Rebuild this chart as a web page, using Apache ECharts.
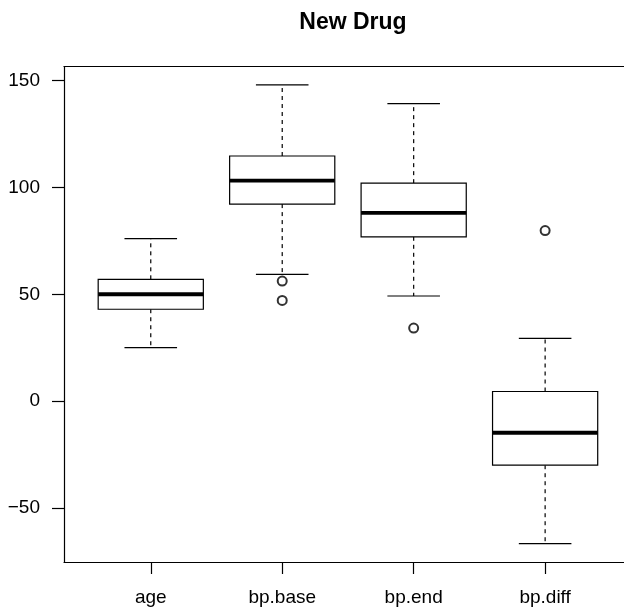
<!DOCTYPE html>
<html>
<head>
<meta charset="utf-8">
<script src="https://cdn.jsdelivr.net/npm/echarts@6/dist/echarts.min.js"></script>
<style>
html,body{margin:0;padding:0;background:#fff;}
#chart{width:624px;height:611px;}
</style>
</head>
<body>
<div id="chart"></div>
<script>
// ---- data ----
const categories = ['age', 'bp.base', 'bp.end', 'bp.diff'];
const lowWhisker = [25, 59.3, 49.2, -66.7];
const lowerQuartile = [43, 92.2, 76.9, -30];
const medianValue = [50, 103.2, 88.1, -14.8];
const upperQuartile = [57, 114.7, 102, 4.5];
const highWhisker = [76, 148, 139.2, 29.4];
const outlierGroup = [2, 2, 3, 4];
const outlierValue = [56.2, 47.1, 34.2, 79.8];
const yTickValues = [-50, 0, 50, 100, 150];
const xTickValues = [1, 2, 3, 4];

const FONT = "'Liberation Sans', Arial, Helvetica, sans-serif";

const allVals = lowWhisker.concat(highWhisker, outlierValue);
const yLo = Math.min.apply(null, allVals), yHi = Math.max.apply(null, allVals);
const yPad = 0.04 * (yHi - yLo);

const boxData = categories.map((c, i) => [i + 1, lowWhisker[i], lowerQuartile[i], medianValue[i], upperQuartile[i], highWhisker[i]]);
const outlierData = outlierGroup.map((g, i) => [g, outlierValue[i]]);

function renderBox(params, api) {
  const x = api.value(0);
  const pMin = api.coord([x, api.value(1)]);
  const pQ1 = api.coord([x, api.value(2)]);
  const pMed = api.coord([x, api.value(3)]);
  const pQ3 = api.coord([x, api.value(4)]);
  const pMax = api.coord([x, api.value(5)]);
  const half = api.size([0.4, 0])[0];
  const capHalf = half / 2;
  const cx = pMed[0];
  const lw = 1.2;
  const dashed = { stroke: '#000', lineWidth: lw, lineDash: [4, 4], fill: null };
  const solid = { stroke: '#000', lineWidth: lw, fill: null };
  return {
    type: 'group',
    children: [
      { type: 'line', shape: { x1: cx, y1: pQ3[1], x2: cx, y2: pMax[1] }, style: dashed },
      { type: 'line', shape: { x1: cx, y1: pQ1[1], x2: cx, y2: pMin[1] }, style: dashed },
      { type: 'line', shape: { x1: cx - capHalf, y1: pMax[1], x2: cx + capHalf, y2: pMax[1] }, style: solid },
      { type: 'line', shape: { x1: cx - capHalf, y1: pMin[1], x2: cx + capHalf, y2: pMin[1] }, style: solid },
      { type: 'rect', shape: { x: cx - half, y: pQ3[1], width: 2 * half, height: pQ1[1] - pQ3[1] },
        style: { fill: '#fff', stroke: '#000', lineWidth: lw } },
      { type: 'line', shape: { x1: cx - half, y1: pMed[1], x2: cx + half, y2: pMed[1] },
        style: { stroke: '#000', lineWidth: 3.8 } }
    ]
  };
}

const chart = echarts.init(document.getElementById('chart'), null, { renderer: 'canvas' });
chart.setOption({
  animation: false,
  backgroundColor: '#fff',
  title: {
    text: 'New Drug',
    left: 348,
    top: 6,
    textAlign: 'center',
    textStyle: { fontFamily: FONT, fontWeight: 'bold', fontSize: 23, color: '#000' }
  },
  grid: {
    left: 64, right: 0, top: 66.5, bottom: 49,
    show: false
  },
  xAxis: [
    {
      type: 'value',
      min: 0.34, max: 4.6,
      axisLine: { show: true, onZero: false, lineStyle: { color: '#000', width: 1.2 } },
      axisTick: { show: true, length: 12, customValues: xTickValues, lineStyle: { color: '#000', width: 1.2 } },
      axisLabel: {
        show: true, margin: 26, customValues: xTickValues,
        fontFamily: FONT, fontSize: 19, color: '#000',
        formatter: v => categories[Math.round(v) - 1] || ''
      },
      splitLine: { show: false }
    },
    {
      type: 'value',
      position: 'top',
      min: 0.34, max: 4.6,
      axisLine: { show: true, onZero: false, lineStyle: { color: '#000', width: 1.2 } },
      axisTick: { show: false },
      axisLabel: { show: false },
      splitLine: { show: false }
    }
  ],
  yAxis: {
    type: 'value',
    min: yLo - yPad, max: yHi + yPad,
    axisLine: { show: true, onZero: false, lineStyle: { color: '#000', width: 1.2 } },
    axisTick: { show: true, length: 12, customValues: yTickValues, lineStyle: { color: '#000', width: 1.2 } },
    axisLabel: {
      show: true, margin: 24, customValues: yTickValues,
      fontFamily: FONT, fontSize: 19, color: '#000',
      formatter: v => String(v).replace('-', '\u2212')
    },
    splitLine: { show: false }
  },
  series: [
    {
      type: 'custom',
      renderItem: renderBox,
      data: boxData,
      encode: { x: 0, y: [1, 2, 3, 4, 5] },
      z: 2
    },
    {
      type: 'scatter',
      data: outlierData,
      symbol: 'emptyCircle',
      symbolSize: 9,
      itemStyle: { color: '#000', borderColor: '#000', borderWidth: 1.2 },
      z: 3
    }
  ]
});
</script>
</body>
</html>
